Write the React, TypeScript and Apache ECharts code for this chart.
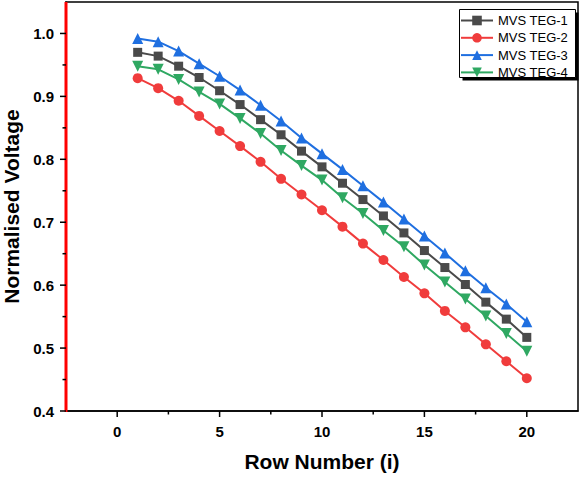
import React, { useEffect, useRef } from "react";
import * as echarts from "echarts";

const rows = [1, 2, 3, 4, 5, 6, 7, 8, 9, 10, 11, 12, 13, 14, 15, 16, 17, 18, 19, 20];
const teg1 = [0.970, 0.964, 0.948, 0.930, 0.909, 0.887, 0.863, 0.839, 0.813, 0.788, 0.762, 0.736, 0.710, 0.683, 0.655, 0.628, 0.601, 0.573, 0.546, 0.517];
const teg2 = [0.929, 0.913, 0.893, 0.869, 0.845, 0.821, 0.796, 0.769, 0.744, 0.719, 0.693, 0.666, 0.640, 0.613, 0.587, 0.559, 0.533, 0.506, 0.479, 0.452];
const teg3 = [0.992, 0.987, 0.972, 0.952, 0.932, 0.910, 0.886, 0.861, 0.834, 0.809, 0.784, 0.758, 0.732, 0.705, 0.678, 0.651, 0.623, 0.596, 0.570, 0.542];
const teg4 = [0.948, 0.943, 0.927, 0.907, 0.888, 0.865, 0.841, 0.814, 0.790, 0.767, 0.739, 0.714, 0.687, 0.661, 0.632, 0.605, 0.578, 0.551, 0.523, 0.495];
const seriesNames = ["MVS TEG-1", "MVS TEG-2", "MVS TEG-3", "MVS TEG-4"];

const xMin = -2.5;
const xMax = 22.5;
const yMin = 0.4;
const yMax = 1.05;
const xLabels = [0, 5, 10, 15, 20];
const xMinor = [2.5, 7.5, 12.5, 17.5];
const yLabels = [0.4, 0.5, 0.6, 0.7, 0.8, 0.9, 1.0];
const yMinor = [0.45, 0.55, 0.65, 0.75, 0.85, 0.95];

const FONT = '"Liberation Sans", Arial, sans-serif';

export default function App() {
  const ref = useRef<HTMLDivElement>(null);
  useEffect(() => {
    const chart = echarts.init(ref.current!, null, { renderer: "svg" });
    const mk = (vals: number[]) => rows.map((r, i) => [r, vals[i]]);
    const styles = [
      { color: "#4a4a4a", symbol: "rect", size: 9, rotate: 0 },
      { color: "#f03c3c", symbol: "circle", size: 10, rotate: 0 },
      { color: "#1f6fe0", symbol: "triangle", size: 11, rotate: 0 },
      { color: "#2fa862", symbol: "triangle", size: 11, rotate: 180 },
    ];
    const datas = [teg1, teg2, teg3, teg4];
    const lineSeries = seriesNames.map((name, i) => ({
      name,
      type: "line",
      data: mk(datas[i]),
      symbol: styles[i].symbol,
      symbolSize: styles[i].size,
      symbolRotate: styles[i].rotate,
      showAllSymbol: true,
      color: styles[i].color,
      lineStyle: { color: styles[i].color, width: 2 },
      itemStyle: { color: styles[i].color },
      z: 3,
    }));
    const tickSeries = (dim: "x" | "y", values: number[], len: number) => ({
      type: "custom",
      name: "ticks-" + dim + len,
      clip: false,
      silent: true,
      z: 20,
      data: values.map((v) => (dim === "x" ? [v, yMin] : [xMin, v])),
      renderItem: (_p: any, api: any) => {
        const pt = api.coord([api.value(0), api.value(1)]);
        const shape =
          dim === "x"
            ? { x1: pt[0], y1: pt[1], x2: pt[0], y2: pt[1] + len }
            : { x1: pt[0], y1: pt[1], x2: pt[0] - len, y2: pt[1] };
        return { type: "line", shape, style: { stroke: "#000", lineWidth: 1.5 } };
      },
    });
    const leftAxisLine = {
      type: "custom",
      name: "left-axis",
      clip: false,
      silent: true,
      z: 20,
      data: [[xMin, yMin, yMax]],
      renderItem: (_p: any, api: any) => {
        const a = api.coord([api.value(0), api.value(1)]);
        const b = api.coord([api.value(0), api.value(2)]);
        return { type: "line", shape: { x1: a[0], y1: a[1] + 1, x2: b[0], y2: b[1] }, style: { stroke: "red", lineWidth: 3 } };
      },
    };
    chart.setOption({
      animation: false,
      backgroundColor: "#fff",
      grid: {
        left: 66, right: 1, top: 2, bottom: 66,
        containLabel: false, outerBoundsMode: "none",
        show: true, borderColor: "#000", borderWidth: 1.5,
      },
      graphic: [
        { type: "rect", z: 1, shape: { x: 462.5, y: 12.5, width: 116, height: 68 }, style: { fill: "#000" } },
        { type: "rect", z: 2, shape: { x: 459.5, y: 9.5, width: 116, height: 68 }, style: { fill: "#fff", stroke: "#000", lineWidth: 1 } },
      ],
      legend: {
        z: 10,
        orient: "vertical",
        left: 459,
        top: 9,
        padding: [5, 8, 4, 1],
        itemWidth: 32,
        itemHeight: 12,
        itemGap: 4.3,
        data: seriesNames,
        textStyle: { fontFamily: FONT, fontSize: 13, color: "#000", lineHeight: 12 },
      },
      xAxis: {
        type: "value",
        min: xMin,
        max: xMax,
        name: "Row Number (i)",
        nameLocation: "middle",
        nameGap: 40,
        nameTextStyle: { fontFamily: FONT, fontSize: 21, fontWeight: "bold", color: "#000" },
        axisLine: { show: true, onZero: false, lineStyle: { color: "#000", width: 1.5 } },
        axisTick: { show: false },
        axisLabel: { fontFamily: FONT, fontSize: 15, fontWeight: "bold", color: "#000", margin: 13, customValues: xLabels, formatter: (v: number) => String(v) },
        splitLine: { show: false },
      },
      yAxis: {
        type: "value",
        min: yMin,
        max: yMax,
        name: "Normalised Voltage",
        nameLocation: "middle",
        nameGap: 42,
        nameTextStyle: { fontFamily: FONT, fontSize: 21, fontWeight: "bold", color: "#000" },
        axisLine: { show: true, onZero: false, lineStyle: { color: "#000", width: 1.5 } },
        axisTick: { show: false },
        axisLabel: { fontFamily: FONT, fontSize: 15, fontWeight: "bold", color: "#000", margin: 12, customValues: yLabels, formatter: (v: number) => v.toFixed(1) },
        splitLine: { show: false },
      },
      series: [
        ...lineSeries,
        leftAxisLine,
        tickSeries("x", xLabels, 6),
        tickSeries("x", xMinor, 3.5),
        tickSeries("y", yLabels, 6),
        tickSeries("y", yMinor, 3.5),
      ],
    });
    return () => chart.dispose();
  }, []);
  return <div ref={ref} style={{ position: "fixed", left: 0, top: 0, width: 579, height: 477, background: "#fff" }} />;
}
